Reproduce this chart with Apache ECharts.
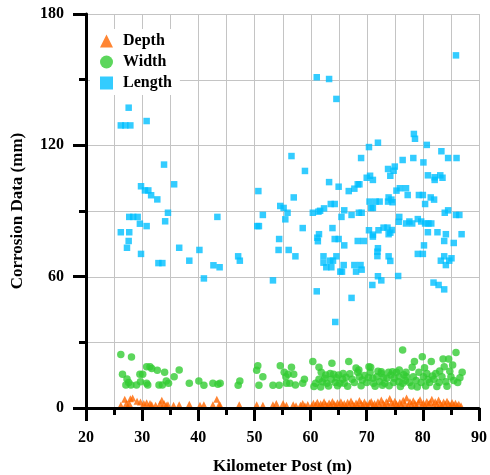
<!DOCTYPE html>
<html>
<head>
<meta charset="utf-8">
<script src="https://cdn.jsdelivr.net/npm/echarts@6/dist/echarts.min.js"></script>
<style>
  html, body { margin: 0; padding: 0; background: #fff; }
  #chart { width: 490px; height: 475px; }
</style>
</head>
<body>
<div id="chart"></div>
<script>
// Corrosion measurements along the pipeline: [kilometer post, value in mm]
const depthData = [
  [26.2,1.2],[26.9,4.0],[27.2,2.0],[27.9,4.2],[28.3,4.6],[27.7,2.0],
  [29.1,3.1],[29.7,2.7],[30.3,2.0],[30.8,2.4],[31.4,2.0],[31.7,1.5],
  [32.4,1.2],[33.2,2.0],[33.5,3.5],[33.9,2.0],[34.3,1.2],[34.6,1.5],
  [35.6,1.2],[36.6,1.5],[38.4,1.7],[40.3,1.2],[41.0,1.5],
  [42.6,1.5],[43.3,4.0],[43.7,1.5],[43.9,1.2],[47.3,1.5],
  [50.4,1.5],[51.5,1.2],[53.3,1.5],[53.9,2.0],[55.1,2.0],[55.7,1.2],
  [56.9,1.5],[57.4,1.0],[58.2,1.3],[58.6,2.0],[59.0,1.0],[59.5,1.6],
  [60.2,1.0],[60.5,2.2],[60.9,1.4],[61.2,2.6],[61.5,1.0],[61.8,1.9],
  [62.1,1.3],[62.4,2.8],[62.7,1.6],[63.0,1.0],[63.3,2.3],[63.6,1.4],
  [63.9,3.0],[64.2,1.8],[64.5,1.1],[64.8,2.4],[65.1,1.5],[65.4,2.9],
  [65.7,1.2],[66.0,2.0],[66.3,1.0],[66.6,2.6],[66.9,1.5],[67.2,3.2],
  [67.5,1.8],[67.8,1.0],[68.1,2.3],[68.4,1.4],[68.7,3.4],[69.0,2.0],
  [69.3,1.2],[69.6,2.7],[69.9,1.6],[70.2,1.0],[70.5,2.4],[70.8,3.0],
  [71.1,1.3],[71.4,2.1],[71.7,1.0],[72.0,2.8],[72.3,1.5],[72.6,3.6],
  [72.9,2.2],[73.2,1.2],[73.5,2.9],[73.8,1.6],[74.1,4.3],[74.4,2.4],
  [74.7,1.4],[75.0,3.1],[75.3,1.9],[75.6,1.0],[75.9,2.6],[76.2,1.5],
  [76.5,3.5],[76.8,2.1],[77.1,4.6],[77.4,1.3],[77.7,2.8],[78.0,1.6],
  [78.3,3.3],[78.6,2.0],[78.9,1.1],[79.2,2.7],[79.5,3.8],[79.8,1.5],
  [80.1,2.3],[80.4,1.0],[80.7,3.0],[81.0,1.8],[81.3,2.5],[81.6,4.0],
  [81.9,1.4],[82.2,2.9],[82.5,1.7],[82.8,3.6],[83.1,2.1],[83.4,1.2],
  [83.7,2.7],[84.0,1.6],[84.3,3.1],[84.6,1.9],[84.9,1.0],[85.2,2.5],
  [85.5,1.4],[85.8,2.2],[86.1,1.1],[86.4,1.7],[86.8,1.0]
];

const widthData = [
  [26.2,24.4],[28.1,23.3],[26.5,15.4],[27.3,13.2],[27.6,11.7],[27.1,10.5],
  [28.0,10.5],[29.0,10.5],[29.6,15.4],[30.1,15.4],[29.7,12.0],[30.8,11.3],
  [31.0,10.5],[30.8,18.9],[31.4,18.9],[31.7,18.0],[32.7,17.2],[34.0,16.3],
  [36.6,17.4],[35.7,14.3],[33.0,10.5],[33.6,10.5],[34.3,12.3],[34.7,11.3],
  [38.4,11.3],[40.1,12.3],[41.0,10.4],[42.6,11.3],[43.5,10.8],[43.9,11.3],
  [47.4,12.3],[47.1,10.4],[50.6,19.3],[50.4,17.2],[51.5,14.3],[50.8,10.4],
  [53.3,10.4],[54.4,10.4],[54.6,19.3],[55.3,16.3],[55.6,14.3],[56.0,15.4],
  [55.7,11.3],[56.3,11.3],[56.6,18.6],[57.0,15.4],[57.3,10.5],[58.6,11.3],
  [58.9,13.1],
  [60.4,21.2],[61.5,18.6],[61.9,16.3],[60.9,11.3],[61.5,13.1],[62.1,12.0],
  [62.7,15.1],[62.9,11.3],[63.7,13.1],[64.1,15.4],[64.4,11.6],[65.0,15.1],
  [65.2,11.3],[65.8,15.8],[65.7,13.1],[66.0,11.3],[63.8,20.4],[66.8,21.2],
  [68.1,18.3],[68.6,17.4],[68.4,16.3],[67.4,13.1],[67.8,11.6],[68.7,14.3],
  [69.2,12.8],[70.4,18.9],[70.6,16.3],[70.0,11.6],[71.1,13.6],[71.2,11.3],
  [71.8,14.3],[72.3,12.0],[72.6,15.8],[73.2,11.3],[73.9,16.3],[73.6,13.6],
  [74.3,15.1],[74.8,11.6],[75.3,16.3],[75.8,14.3],[75.7,12.0],[75.8,17.4],
  [76.4,26.5],[76.4,11.3],[77.0,16.3],[77.1,14.3],[77.6,11.6],[78.3,14.3],
  [78.1,18.6],[78.5,21.2],[79.3,16.3],[79.7,11.6],[80.1,14.3],[79.9,23.4],
  [80.3,18.4],[80.7,15.8],[81.2,11.6],[81.5,21.2],[82.0,13.1],[82.3,15.8],
  [82.9,11.6],[83.4,14.3],[83.6,22.4],[84.6,22.4],[83.8,18.9],[85.3,19.6],
  [84.1,12.0],[85.0,14.3],[85.9,25.3],[86.2,11.6],[87.0,16.3],[70.7,18.6],
  [72.6,16.6],[74.6,16.6],
  [60.6,9.8],[61.8,9.6],[62.5,13.6],[63.2,10.0],[63.5,15.8],[64.8,10.2],
  [64.6,13.8],[66.3,14.0],[66.6,9.9],[67.0,15.6],[69.0,10.2],[69.6,14.8],
  [70.3,13.9],[71.5,9.9],[72.0,16.8],[72.8,10.4],[73.0,13.9],[74.0,10.2],
  [74.9,13.6],[76.0,9.8],[76.6,15.2],[76.9,12.6],[78.0,10.0],[78.8,12.6],
  [79.0,9.6],[80.5,10.0],[80.9,13.0],[81.7,14.6],[82.5,9.8],[83.0,16.9],
  [84.3,9.9],[84.8,16.8],[85.5,12.6],[86.6,13.8]
];

const lengthData = [
  [27.6,137.2],[26.2,129.1],[27.0,129.1],[27.9,129.1],[30.8,131.1],[33.9,111.2],
  [35.7,102.2],[29.8,101.3],[30.5,99.4],[31.1,99.4],[31.6,97.2],[32.7,95.3],
  [34.6,89.2],[34.1,85.3],[27.7,87.3],[28.4,87.3],[29.2,87.3],[29.6,84.2],
  [30.8,83.1],[26.2,80.3],[27.7,80.3],[27.6,76.3],[27.3,73.2],[29.8,70.4],
  [36.6,73.2],[40.2,72.2],[38.4,67.3],[32.9,66.2],[33.6,66.2],[41.0,59.2],
  [42.7,65.2],[43.8,64.3],[43.4,87.3],[47.1,69.3],[47.4,67.3],
  [50.7,99.1],[51.5,88.2],[50.5,83.1],[50.8,83.1],[53.3,58.3],[54.4,77.2],
  [54.3,72.2],[56.1,72.2],[57.3,69.3],[54.6,92.3],[55.2,91.4],[55.9,89.2],
  [55.5,86.2],[56.6,115.1],[57.0,96.2],[58.6,82.2],[59.0,108.3],
  [60.4,89.2],[61.4,89.7],[61.7,90.1],[62.4,91.2],[63.6,93.2],[64.3,93.2],
  [66.0,90.3],[65.5,87.3],[67.3,88.2],[68.6,89.2],[69.1,89.2],
  [61.1,151.1],[63.3,150.3],[64.6,141.2],[70.4,119.2],[72.0,121.2],[69.0,114.2],
  [73.8,109.2],[75.0,110.3],[74.8,108.4],[74.2,106.1],[63.3,103.2],[65.0,101.1],
  [66.8,99.1],[67.8,100.2],[68.4,102.2],[68.7,102.2],[70.0,105.2],[70.6,106.1],
  [71.1,104.2],[73.9,96.2],[74.4,95.2],[74.6,94.0],[73.8,94.3],[70.5,94.3],
  [71.6,94.3],[72.3,94.3],[70.8,91.4],[71.1,91.4],[63.9,82.2],[61.5,79.4],
  [61.2,77.8],[61.3,76.2],[64.3,77.2],[65.0,77.2],[66.0,74.3],[68.4,76.3],
  [69.5,76.3],[70.4,81.2],[71.1,79.2],[71.1,78.3],[72.1,81.2],[73.0,82.4],
  [73.7,82.4],[73.9,79.4],[74.5,81.3],[74.2,80.1],[72.0,73.0],[71.9,71.4],
  [71.9,69.4],[73.9,69.3],[74.2,67.2],[62.3,69.3],[62.3,66.4],[62.8,64.3],
  [63.7,64.3],[63.5,67.3],[64.0,67.3],[64.6,69.3],[65.9,65.3],[65.3,62.3],
  [65.6,62.3],[67.8,65.3],[68.9,65.3],[68.1,62.3],[69.1,63.2],[72.0,60.2],
  [72.6,58.3],[71.0,56.2],[61.1,53.3],[67.3,50.3],[64.4,39.3],
  [85.9,161.1],[78.4,125.2],[78.6,123.0],[80.7,120.2],[83.3,117.3],[84.5,114.2],
  [86.0,114.2],[76.4,113.3],[78.3,114.2],[80.1,112.2],[80.9,106.3],[82.1,105.4],
  [82.1,104.2],[83.1,106.3],[83.5,105.2],[75.3,99.3],[75.9,100.4],[77.0,100.4],
  [77.3,97.3],[79.3,97.3],[80.0,97.3],[80.4,93.2],[81.4,96.2],[82.0,95.2],
  [83.9,89.2],[84.5,90.3],[85.9,88.2],[86.5,88.2],[75.8,87.3],[75.7,85.1],
  [77.0,84.3],[77.6,85.2],[78.1,84.3],[79.1,86.3],[79.7,85.2],[80.4,84.3],
  [81.0,84.3],[81.5,84.3],[80.9,80.3],[82.6,80.3],[84.1,79.4],[86.9,79.4],
  [83.8,76.3],[85.5,75.4],[80.2,74.3],[79.1,70.4],[80.0,70.4],[83.8,69.3],
  [83.2,67.3],[84.1,65.3],[84.7,67.3],[85.1,68.4],[75.6,60.3],[81.9,57.3],
  [82.8,56.2],[83.8,54.2]
];

const seriesNames = ['Depth', 'Width', 'Length'];
const xName = 'Kilometer Post (m)';
const yName = 'Corrosion Data (mm)';

// Axis ranges and the grid line values (every major and minor tick)
const xRange = [20, 90];
const yRange = [0, 180];
const xGridValues = [20, 25, 30, 35, 40, 45, 50, 55, 60, 65, 70, 75, 80, 85, 90];
const yGridValues = [0, 30, 60, 90, 120, 150, 180];

const serif = '"Liberation Serif", "Times New Roman", serif';
const gridColor = '#c4c4c4';

// Build one axis definition; both axes share the same styling
function makeAxis(range, interval, name, nameGap) {
  return {
    type: 'value',
    min: range[0],
    max: range[1],
    interval: interval,
    name: name,
    nameLocation: 'middle',
    nameGap: nameGap,
    nameTextStyle: { color: '#000', fontFamily: serif, fontWeight: 'bold', fontSize: 17 },
    axisLine: { show: true, onZero: false, lineStyle: { color: '#000', width: 3 } },
    axisTick: { show: true, length: 13, lineStyle: { color: '#000', width: 3 } },
    minorTick: { show: true, splitNumber: 2, length: 7, lineStyle: { color: '#000', width: 3 } },
    splitLine: { show: false },
    minorSplitLine: { show: false },
    axisLabel: { color: '#000', fontFamily: serif, fontWeight: 'bold', fontSize: 16, margin: 22 },
    z: 6
  };
}

// Grid lines drawn as a custom series, positioned through the axis scales
function gridLineRenderer(vertical) {
  return function (params, api) {
    const v = api.value(vertical ? 0 : 1);
    const a = vertical ? api.coord([v, yRange[0]]) : api.coord([xRange[0], v]);
    const b = vertical ? api.coord([v, yRange[1]]) : api.coord([xRange[1], v]);
    const shape = vertical
      ? { x1: Math.round(a[0]) + 0.5, y1: a[1], x2: Math.round(b[0]) + 0.5, y2: b[1] }
      : { x1: a[0], y1: Math.round(a[1]) + 0.5, x2: b[0], y2: Math.round(b[1]) + 0.5 };
    return { type: 'line', shape: shape, style: { stroke: gridColor, lineWidth: 1, fill: null } };
  };
}

const chart = echarts.init(document.getElementById('chart'), null, { renderer: 'canvas' });
chart.setOption({
  animation: false,
  grid: { left: 86, right: 11, top: 14, bottom: 67, outerBoundsMode: 'none' },
  legend: {
    data: seriesNames,
    orient: 'vertical',
    left: 90,
    top: 29,
    padding: [4, 8, 4, 10],
    itemGap: 5,
    itemWidth: 13,
    itemHeight: 13,
    backgroundColor: '#fff',
    z: 10,
    textStyle: { color: '#000', fontFamily: serif, fontWeight: 'bold', fontSize: 16, lineHeight: 16, padding: [0, 0, 0, 5] }
  },
  xAxis: makeAxis(xRange, 10, xName, 50),
  yAxis: makeAxis(yRange, 60, yName, 60),
  series: [
    {
      name: 'xGrid', type: 'custom', silent: true, clip: false, z: 2.5,
      renderItem: gridLineRenderer(true),
      data: xGridValues.map(function (v) { return [v, yRange[0]]; })
    },
    {
      name: 'yGrid', type: 'custom', silent: true, clip: false, z: 2.5,
      renderItem: gridLineRenderer(false),
      data: yGridValues.map(function (v) { return [xRange[0], v]; })
    },
    {
      name: 'Length', type: 'scatter', symbol: 'rect', symbolSize: 6.5, z: 3,
      itemStyle: { color: '#00BFFF' }, data: lengthData
    },
    {
      name: 'Width', type: 'scatter', symbol: 'circle', symbolSize: 7.5, z: 3,
      itemStyle: { color: '#33CC33' }, data: widthData
    },
    {
      name: 'Depth', type: 'scatter', symbol: 'triangle', symbolSize: 7, z: 3,
      itemStyle: { color: '#FF6600' }, data: depthData
    }
  ]
});
</script>
</body>
</html>
